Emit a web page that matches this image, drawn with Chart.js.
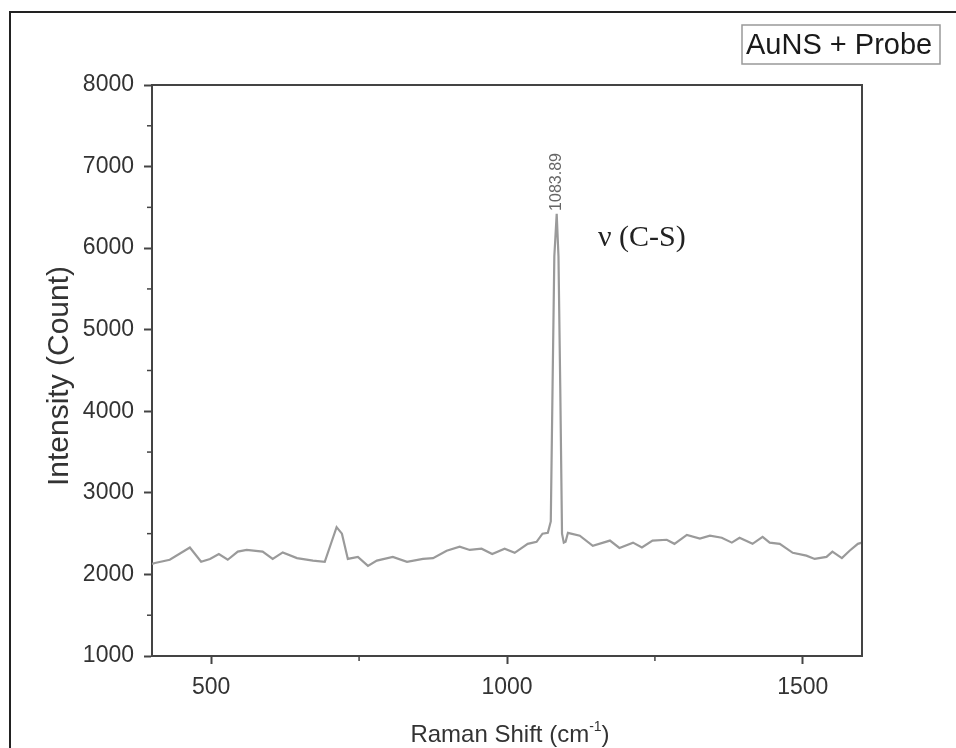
<!DOCTYPE html>
<html>
<head>
<meta charset="utf-8">
<script src="https://cdn.jsdelivr.net/npm/chart.js@4.4.1/dist/chart.umd.min.js"></script>
<style>
  html, body { margin: 0; padding: 0; background: #fff; }
  canvas { display: block; }
</style>
</head>
<body>
<canvas id="raman" width="956" height="748"></canvas>
<script>
// DADOS DO ESPECTRO
const ramanShift = [
  400, 405, 430, 464, 483, 498, 513, 528, 545, 560, 587, 604, 621, 645, 672,
  692, 704, 712, 721, 731, 748, 765, 780, 807, 831, 858, 875, 898, 920, 937,
  957, 975, 996, 1013, 1035, 1050, 1060, 1069, 1074, 1077, 1080, 1084, 1087,
  1090, 1093, 1096, 1099, 1103, 1123, 1145, 1174, 1190, 1213, 1228, 1246,
  1270, 1283, 1304, 1326, 1343, 1363, 1380, 1393, 1415, 1432, 1444, 1461,
  1483, 1506, 1520, 1540, 1550, 1566, 1579, 1593, 1600
];
const intensity = [
  2130, 2140, 2180, 2330, 2155, 2190, 2250, 2180, 2280, 2300, 2280, 2190, 2270, 2200, 2170,
  2155, 2410, 2580, 2500, 2190, 2215, 2105, 2170, 2215, 2155, 2190, 2200, 2290, 2340, 2300,
  2315, 2250, 2315, 2265, 2375, 2400, 2500, 2510, 2650, 4300, 5900, 6420, 5900,
  4300, 2500, 2390, 2400, 2510, 2475, 2350, 2415, 2325, 2390, 2330, 2415,
  2425, 2375, 2485, 2440, 2475, 2450, 2390, 2450, 2375, 2460, 2390, 2375,
  2265, 2230, 2190, 2215, 2280, 2200, 2290, 2375, 2390
];
const xTicks = [500, 1000, 1500];
const xMinorTicks = [750, 1250];
const yTicks = [1000, 2000, 3000, 4000, 5000, 6000, 7000, 8000];
const yMinorTicks = [1500, 2500, 3500, 4500, 5500, 6500, 7500];
const peakPos = 1083.89;
const peakValue = 6420;
const peakLabel = "1083.89";
const bandLabel = "\u03bd (C-S)";
const seriesName = "AuNS + Probe";

const SANS = "'Liberation Sans', Arial, sans-serif";
const SERIF = "'Liberation Serif', 'Times New Roman', serif";
const AXIS = "#444";

// ------------------------------
// PLUGIN: moldura, ticks menores, textos
// ------------------------------
const decoracoes = {
  id: "decoracoes",
  afterDraw(chart) {
    const ctx = chart.ctx;
    const { left, right, top, bottom } = chart.chartArea;
    const xs = chart.scales.x;
    const ys = chart.scales.y;
    ctx.save();

    // caixa do gráfico (topo e direita)
    ctx.strokeStyle = AXIS;
    ctx.lineWidth = 2;
    ctx.beginPath();
    ctx.moveTo(left, top);
    ctx.lineTo(right, top);
    ctx.lineTo(right, bottom);
    ctx.stroke();

    // ticks menores
    ctx.lineWidth = 1.5;
    xMinorTicks.forEach((v) => {
      const px = xs.getPixelForValue(v);
      ctx.beginPath();
      ctx.moveTo(px, bottom);
      ctx.lineTo(px, bottom + 5);
      ctx.stroke();
    });
    yMinorTicks.forEach((v) => {
      const py = ys.getPixelForValue(v);
      ctx.beginPath();
      ctx.moveTo(left, py);
      ctx.lineTo(left - 5, py);
      ctx.stroke();
    });

    // moldura externa
    ctx.strokeStyle = "#222";
    ctx.lineWidth = 2;
    ctx.beginPath();
    ctx.moveTo(10, 748);
    ctx.lineTo(10, 12);
    ctx.lineTo(956, 12);
    ctx.stroke();

    // legenda
    ctx.strokeStyle = "#999";
    ctx.lineWidth = 1.5;
    ctx.fillStyle = "#fff";
    ctx.fillRect(742, 25, 198, 39);
    ctx.strokeRect(742, 25, 198, 39);
    ctx.fillStyle = "#1a1a1a";
    ctx.font = "29px " + SANS;
    ctx.textAlign = "left";
    ctx.textBaseline = "middle";
    ctx.fillText(seriesName, 746, 46);

    // rótulo do pico
    const pkX = xs.getPixelForValue(peakPos);
    const pkY = ys.getPixelForValue(peakValue);
    ctx.save();
    ctx.translate(pkX, pkY - 3);
    ctx.rotate(-Math.PI / 2);
    ctx.fillStyle = "#666";
    ctx.font = "16px " + SANS;
    ctx.textAlign = "left";
    ctx.textBaseline = "middle";
    ctx.fillText(peakLabel, 0, 0);
    ctx.restore();

    // banda v(C-S)
    ctx.fillStyle = "#222";
    ctx.font = "30px " + SERIF;
    ctx.textAlign = "left";
    ctx.textBaseline = "middle";
    ctx.fillText(bandLabel, 598, ys.getPixelForValue(6120));

    // títulos dos eixos
    ctx.fillStyle = "#333";
    ctx.font = "30px " + SANS;
    ctx.textAlign = "center";
    ctx.textBaseline = "middle";
    ctx.save();
    ctx.translate(60, 376);
    ctx.rotate(-Math.PI / 2);
    ctx.fillText("Intensity (Count)", 0, 0);
    ctx.restore();

    const t1 = "Raman Shift (cm";
    const sup = "-1";
    const t2 = ")";
    ctx.font = "24px " + SANS;
    const w1 = ctx.measureText(t1).width;
    const w3 = ctx.measureText(t2).width;
    ctx.font = "14px " + SANS;
    const w2 = ctx.measureText(sup).width;
    let x0 = 510 - (w1 + w2 + w3) / 2;
    const yb = 742;
    ctx.textAlign = "left";
    ctx.textBaseline = "alphabetic";
    ctx.font = "24px " + SANS;
    ctx.fillText(t1, x0, yb);
    ctx.font = "14px " + SANS;
    ctx.fillText(sup, x0 + w1, yb - 11);
    ctx.font = "24px " + SANS;
    ctx.fillText(t2, x0 + w1 + w2, yb);

    ctx.restore();
  },
};

// ------------------------------
// GRÁFICO
// ------------------------------
const pontos = ramanShift.map((x, i) => ({ x: x, y: intensity[i] }));

new Chart(document.getElementById("raman").getContext("2d"), {
  type: "line",
  data: {
    datasets: [
      {
        label: seriesName,
        data: pontos,
        borderColor: "#9a9a9a",
        borderWidth: 2.2,
        pointRadius: 0,
        tension: 0,
        fill: false,
      },
    ],
  },
  options: {
    responsive: false,
    animation: false,
    devicePixelRatio: 1,
    layout: { padding: { left: 0, top: 85, right: 94, bottom: 0 } },
    plugins: { legend: { display: false }, tooltip: { enabled: false } },
    scales: {
      x: {
        type: "linear",
        min: 400,
        max: 1600,
        afterBuildTicks: (s) => { s.ticks = xTicks.map((v) => ({ value: v })); },
        afterFit: (s) => { s.height = 92; },
        grid: { drawOnChartArea: false, tickLength: 8, tickWidth: 2, tickColor: AXIS },
        border: { display: true, color: AXIS, width: 2 },
        ticks: {
          color: "#333",
          font: { family: SANS, size: 23 },
          padding: 10,
          maxRotation: 0,
          callback: (v) => String(v),
        },
      },
      y: {
        min: 1000,
        max: 8000,
        afterBuildTicks: (s) => { s.ticks = yTicks.map((v) => ({ value: v })); },
        afterFit: (s) => { s.width = 152; },
        grid: { drawOnChartArea: false, tickLength: 8, tickWidth: 2, tickColor: AXIS },
        border: { display: true, color: AXIS, width: 2 },
        ticks: {
          color: "#333",
          font: { family: SANS, size: 23 },
          padding: 10,
          callback: (v) => String(v),
        },
      },
    },
  },
  plugins: [decoracoes],
});
</script>
</body>
</html>
